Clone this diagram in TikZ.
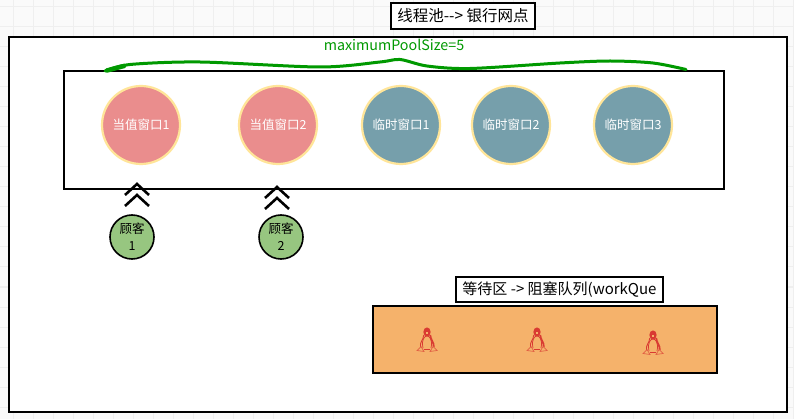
\documentclass[tikz,border=0pt]{standalone}
\usepackage{fontspec}
\setmainfont{Noto Sans CJK SC}
\usepackage{xcolor}
\usetikzlibrary{positioning}
\definecolor{paper}{HTML}{FAFAFA}
\definecolor{gridline}{HTML}{EFEFEF}
\definecolor{ring}{HTML}{FFE599}
\definecolor{dutyred}{HTML}{EA8D8D}
\definecolor{tempblue}{HTML}{769FAB}
\definecolor{guestgreen}{HTML}{97C680}
\definecolor{queueorange}{HTML}{F5B26B}
\definecolor{bracegreen}{HTML}{009900}
\definecolor{tuxred}{HTML}{D93A32}

\begin{document}
\begin{tikzpicture}[
    x=1pt, y=-1pt,
    node distance=44pt,
    frame/.style={draw=black, line width=2.6pt, fill=white, outer sep=0pt, inner sep=0pt},
    label/.style={draw=black, line width=2.6pt, fill=white, outer sep=0pt, inner sep=0pt},
    window/.style={circle, draw=ring, line width=2.2pt, minimum size=78pt, inner sep=0pt, outer sep=0pt, text=white, font=\fontsize{12.5}{14}\selectfont},
    duty/.style={window, fill=dutyred},
    temp/.style={window, fill=tempblue},
    guest/.style={circle, draw=black, line width=1.6pt, fill=guestgreen, minimum size=44pt, inner sep=0pt, outer sep=0pt, align=center, font=\fontsize{12.5}{17}\selectfont},
    chevron/.pic={
        \draw[line width=2.6pt] (-12,6) -- (0,-5) -- (12,6);
        \draw[line width=2.6pt] (-12,17) -- (0,6) -- (12,17);
    },
    penguin/.pic={
        \fill[tuxred] (0,-9) ellipse (3.6 and 4.6);
        \fill[queueorange] (-1.4,-9.5) rectangle (1.4,-7.5);
        \draw[tuxred, line width=.9pt] (-3.2,-6) .. controls (-3.5,-1) and (-7.5,1) .. (-6.5,6);
        \draw[tuxred, line width=1.8pt] (3.2,-6) .. controls (3.5,-1) and (7,1) .. (6.8,6);
        \draw[tuxred, line width=.7pt] (-4,7) .. controls (-6,-2) and (-2,-5) .. (0,-5) .. controls (2,-5) and (6,-2) .. (4,7);
        \draw[tuxred, line width=1pt] (-3,8.5) -- (3,8.5);
        \draw[tuxred!70!queueorange, line width=.7pt] (-10,9.5) -- (-6,5.5) -- (-3,10.5) -- cycle;
        \draw[tuxred!70!queueorange, line width=.7pt] (10,9.5) -- (6,5.5) -- (3,10.5) -- cycle;
    }
]
\useasboundingbox (0,0) rectangle (794,419);
\fill[paper] (0,0) rectangle (794,419);
% grid of the canvas
\foreach \gx in {13,33,...,793}
    \draw[gridline, line width=1pt] (\gx,0) -- (\gx,419);
\foreach \gy in {7,27,...,419}
    \draw[gridline, line width=1pt] (0,\gy) -- (794,\gy);

\node[frame, minimum width=778pt, minimum height=375pt] (pool) at (398,224.5) {};
\node[frame, minimum width=660pt, minimum height=118pt] (windows) at (394,130) {};
\node[label, minimum width=144pt, minimum height=26pt, font=\fontsize{15.5}{17}\selectfont] (title) at (463,16) {线程池-{}-> 银行网点};

\node[bracegreen, font=\fontsize{14.3}{16}\selectfont] (maxsize) at (394,45) {maximumPoolSize=5};
\draw[bracegreen, line width=3pt, line cap=round] plot[smooth] coordinates {(105,71) (130,64.5) (200,62) (320,67) (380,62) (400,59.5) (427,66) (470,68.5) (560,63) (610,61) (653,63) (686,69.5)};
\draw[bracegreen, line width=4.5pt, line cap=round] (107,70.5) -- (124,66);

\node[duty] (duty1) at (141,125) {当值窗口1};
\node[duty, right=59pt of duty1] (duty2) {当值窗口2};
\node[temp, right=45pt of duty2] (temp1) {临时窗口1};
\node[temp, right=32pt of temp1] (temp2) {临时窗口2};
\node[temp, right=44pt of temp2] (temp3) {临时窗口3};

\node[guest] (guest1) at (132,237) {顾客\\1};
\node[guest] (guest2) at (281,237) {顾客\\2};
\pic at (137,189) {chevron};
\pic at (277,192) {chevron};

\node[frame, fill=queueorange, minimum width=344pt, minimum height=67pt] (queue) at (545,339.5) {};
\node[label, minimum width=207pt, minimum height=25pt, font=\fontsize{15}{17}\selectfont] (queuetitle) at (559.5,289.5) {等待区 -> 阻塞队列(workQue};
\pic at (427,341) {penguin};
\pic at (537,341) {penguin};
\pic at (653,344) {penguin};
\end{tikzpicture}
\end{document}
